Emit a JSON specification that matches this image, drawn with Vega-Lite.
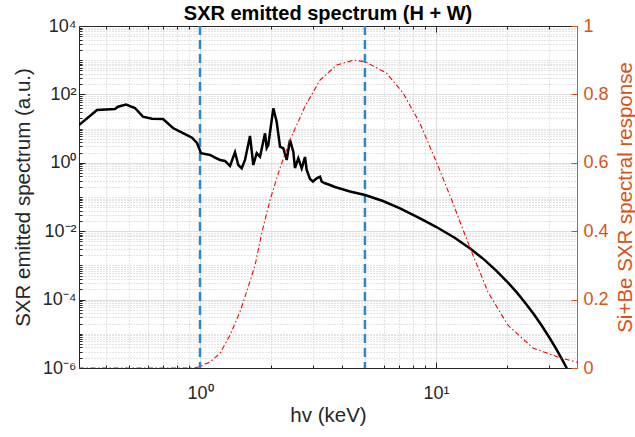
{
  "$schema": "https://vega.github.io/schema/vega-lite/v6.json",
  "width": 498,
  "height": 342,
  "autosize": {"type": "none"},
  "padding": {"left": 79, "top": 26, "right": 58, "bottom": 69},
  "background": "white",
  "config": {"view": {"stroke": null}, "font": "Liberation Sans"},
  "title": {"text": "SXR emitted spectrum (H + W)", "fontSize": 20, "fontWeight": "bold", "font": "Liberation Sans", "color": "#000000", "anchor": "middle", "offset": -23, "baseline": "alphabetic"},
  "datasets": {
    "black": [
      {"E":0.307,"S":12.7},{"E":0.366,"S":35.0},{"E":0.436,"S":37.4},{"E":0.449,"S":43.7},{"E":0.486,"S":50.7},
      {"E":0.530,"S":40.0},{"E":0.573,"S":22.3},{"E":0.626,"S":19.5},{"E":0.697,"S":19.1},{"E":0.768,"S":10.4},
      {"E":0.839,"S":7.59},{"E":0.925,"S":5.42},{"E":0.971,"S":3.79},{"E":1.01,"S":1.90},{"E":1.103,"S":1.69},
      {"E":1.158,"S":1.41},{"E":1.215,"S":1.21},{"E":1.276,"S":1.13},{"E":1.340,"S":0.806},{"E":1.407,"S":2.03},
      {"E":1.453,"S":0.863},{"E":1.502,"S":0.690},{"E":1.551,"S":1.21},{"E":1.629,"S":6.08},{"E":1.682,"S":0.863},
      {"E":1.739,"S":1.90},{"E":1.796,"S":1.51},{"E":1.886,"S":7.29},{"E":1.917,"S":2.71},{"E":1.947,"S":3.31},
      {"E":2.045,"S":39.2},{"E":2.113,"S":15.9},{"E":2.183,"S":2.96},{"E":2.254,"S":2.66},{"E":2.330,"S":1.21},
      {"E":2.407,"S":4.64},{"E":2.485,"S":2.11},{"E":2.526,"S":0.705},{"E":2.610,"S":1.35},{"E":2.698,"S":0.690},
      {"E":2.786,"S":1.48},{"E":2.832,"S":0.615},{"E":2.925,"S":0.336},{"E":3.011,"S":0.284},{"E":3.123,"S":0.352},
      {"E":3.225,"S":0.393},{"E":3.280,"S":0.280},{"E":3.386,"S":0.252},{"E":3.554,"S":0.224},{"E":3.733,"S":0.196},
      {"E":4.322,"S":0.145},{"E":5.003,"S":0.114},{"E":5.96,"S":0.0764},{"E":7.04,"S":0.0468},{"E":8.56,"S":0.0238},
      {"E":10.0,"S":0.01346},{"E":12.0,"S":0.00644},{"E":14.0,"S":0.00308},{"E":16.0,"S":0.001475},{"E":18.0,"S":0.000706},
      {"E":20.0,"S":0.000338},{"E":22.0,"S":0.000162},{"E":24.0,"S":0.0000774},{"E":26.0,"S":0.0000371},{"E":28.0,"S":0.0000177},
      {"E":30.0,"S":0.00000849},{"E":32.0,"S":0.00000406},{"E":34.0,"S":0.00000195},{"E":35.8,"S":0.000001},{"E":37.0,"S":0.00000064}
    ],
    "red": [
      {"E":0.307,"R":0},{"E":0.952,"R":0},{"E":1.017,"R":0.0064},{"E":1.103,"R":0.018},{"E":1.215,"R":0.043},
      {"E":1.340,"R":0.096},{"E":1.478,"R":0.165},{"E":1.602,"R":0.238},{"E":1.711,"R":0.30},{"E":1.826,"R":0.394},
      {"E":1.917,"R":0.452},{"E":1.980,"R":0.491},{"E":2.183,"R":0.585},{"E":2.407,"R":0.667},{"E":2.786,"R":0.765},
      {"E":3.225,"R":0.842},{"E":3.795,"R":0.886},{"E":4.463,"R":0.90},{"E":5.003,"R":0.896},{"E":6.18,"R":0.862},
      {"E":7.27,"R":0.803},{"E":8.56,"R":0.715},{"E":10.23,"R":0.589},{"E":11.66,"R":0.491},{"E":13.93,"R":0.352},
      {"E":16.61,"R":0.222},{"E":20.19,"R":0.125},{"E":25.84,"R":0.058},{"E":33.52,"R":0.03},{"E":39.58,"R":0.017}
    ],
    "vlines": [{"E":1},{"E":5}]
  },
  "layer": [
    {
      "data": {"name": "black"},
      "mark": {"type": "line", "opacity": 0},
      "encoding": {
        "x": {"field": "E", "type": "quantitative", "scale": {"type": "log", "domain": [0.307, 39.6], "nice": false},
          "axis": {"orient": "bottom", "values": [0.4,0.5,0.6,0.7,0.8,0.9,2,3,4,5,6,7,8,9,20,30], "grid": true, "gridColor": "#c9c9c9", "gridDash": [1,2], "gridWidth": 1, "labels": false, "domain": false, "ticks": true, "tickSize": -3, "tickColor": "#262626", "title": null}},
        "y": {"field": "S", "type": "quantitative", "scale": {"type": "log", "domain": [0.000001, 10000], "nice": false},
          "axis": {"orient": "left", "values": [2e-6,3e-6,4e-6,5e-6,6e-6,7e-6,8e-6,9e-6,1e-5,2e-5,3e-5,4e-5,5e-5,6e-5,7e-5,8e-5,9e-5,2e-4,3e-4,4e-4,5e-4,6e-4,7e-4,8e-4,9e-4,1e-3,2e-3,3e-3,4e-3,5e-3,6e-3,7e-3,8e-3,9e-3,0.02,0.03,0.04,0.05,0.06,0.07,0.08,0.09,0.1,0.2,0.3,0.4,0.5,0.6,0.7,0.8,0.9,2,3,4,5,6,7,8,9,10,20,30,40,50,60,70,80,90,200,300,400,500,600,700,800,900,1000,2000,3000,4000,5000,6000,7000,8000,9000], "grid": true, "gridColor": "#c9c9c9", "gridDash": [1,2], "gridWidth": 1, "labels": false, "domain": false, "ticks": true, "tickSize": -3, "tickColor": "#262626", "title": null}}
      }
    },
    {
      "data": {"name": "black"},
      "mark": {"type": "line", "opacity": 0},
      "encoding": {
        "x": {"field": "E", "type": "quantitative", "scale": {"type": "log", "domain": [0.307, 39.6], "nice": false},
          "axis": {"orient": "top", "values": [0.4,0.5,0.6,0.7,0.8,0.9,2,3,4,5,6,7,8,9,20,30], "grid": false, "labels": false, "domain": false, "ticks": true, "tickSize": -3, "tickColor": "#262626", "title": null}},
        "y": {"field": "S", "type": "quantitative", "scale": {"type": "log", "domain": [0.000001, 10000], "nice": false}, "axis": null}
      }
    },
    {
      "data": {"name": "black"},
      "mark": {"type": "line", "opacity": 0},
      "encoding": {
        "x": {"field": "E", "type": "quantitative", "scale": {"type": "log", "domain": [0.307, 39.6], "nice": false},
          "axis": {"orient": "top", "values": [1, 10], "grid": false, "labels": false, "domain": true, "domainColor": "#262626", "ticks": true, "tickSize": -6, "tickColor": "#262626", "title": null}},
        "y": {"field": "S", "type": "quantitative", "scale": {"type": "log", "domain": [0.000001, 10000], "nice": false}, "axis": null}
      }
    },
    {
      "data": {"name": "black"},
      "mark": {"type": "line", "opacity": 0},
      "encoding": {
        "x": {"field": "E", "type": "quantitative", "scale": {"type": "log", "domain": [0.307, 39.6], "nice": false},
          "axis": {"orient": "bottom", "values": [1, 10], "grid": true, "gridColor": "#dedede", "gridWidth": 1, "domain": true, "domainColor": "#262626", "ticks": true, "tickSize": -6, "tickColor": "#262626",
            "labelExpr": "datum.value >= 5 ? '10¹' : '10⁰'", "labelFont": "Liberation Sans", "labelFontSize": 18, "labelColor": "#262626", "labelPadding": 22, "labelFlush": false, "labelOverlap": false,
            "title": "hv (keV)", "titleFont": "Liberation Sans", "titleFontSize": 20.5, "titleFontWeight": "normal", "titleColor": "#262626", "titleX": 249, "titleY": 53, "titleAlign": "center", "titleBaseline": "alphabetic", "titleAngle": 0}},
        "y": {"field": "S", "type": "quantitative", "scale": {"type": "log", "domain": [0.000001, 10000], "nice": false},
          "axis": {"orient": "left", "values": [0.000001, 0.0001, 0.01, 1, 100, 10000], "grid": true, "gridColor": "#dedede", "gridWidth": 1, "domain": true, "domainColor": "#262626", "ticks": true, "tickSize": -6, "tickColor": "#262626",
            "labelExpr": "datum.value >= 5000 ? '10⁴' : datum.value >= 50 ? '10²' : datum.value >= 0.5 ? '10⁰' : datum.value >= 0.005 ? '10⁻²' : datum.value >= 0.00005 ? '10⁻⁴' : '10⁻⁶'",
            "labelFont": "Liberation Sans", "labelFontSize": 18, "labelColor": "#262626", "labelPadding": 9, "labelFlush": false, "labelOverlap": false,
            "title": "SXR emitted spectrum (a.u.)", "titleFont": "Liberation Sans", "titleFontSize": 20.5, "titleFontWeight": "normal", "titleColor": "#262626", "titleAngle": 270, "titleX": -49.5, "titleY": 171, "titleAlign": "center", "titleBaseline": "alphabetic"}}
      }
    },
    {
      "data": {"name": "vlines"},
      "mark": {"type": "rule", "color": "#2c86cc", "strokeWidth": 2.5, "strokeDash": [9, 5]},
      "encoding": {
        "x": {"field": "E", "type": "quantitative", "scale": {"type": "log", "domain": [0.307, 39.6], "nice": false}, "axis": null}
      }
    },
    {
      "data": {"name": "black"},
      "mark": {"type": "line", "color": "#000000", "strokeWidth": 2.5, "clip": true},
      "encoding": {
        "x": {"field": "E", "type": "quantitative", "scale": {"type": "log", "domain": [0.307, 39.6], "nice": false}, "axis": null},
        "y": {"field": "S", "type": "quantitative", "scale": {"type": "log", "domain": [0.000001, 10000], "nice": false}, "axis": null}
      }
    },
    {
      "data": {"name": "red"},
      "mark": {"type": "line", "color": "#FF0000", "strokeWidth": 1.1, "strokeDash": [5, 2.5, 1.5, 2.5], "clip": true},
      "encoding": {
        "x": {"field": "E", "type": "quantitative", "scale": {"type": "log", "domain": [0.307, 39.6], "nice": false}, "axis": null},
        "y": {"field": "R", "type": "quantitative", "scale": {"type": "linear", "domain": [0, 1], "nice": false, "zero": false},
          "axis": {"orient": "right", "values": [0, 0.2, 0.4, 0.6, 0.8, 1], "grid": false, "domain": true, "domainColor": "#D95319", "ticks": true, "tickColor": "#D95319", "tickSize": -6,
            "labelExpr": "datum.value == 0 ? '0' : datum.value == 1 ? '1' : format(datum.value, '.1f')", "labelFont": "Liberation Sans", "labelFontSize": 18, "labelColor": "#D95319", "labelPadding": 12, "labelFlush": false, "labelOverlap": false,
            "title": "Si+Be SXR spectral response", "titleFont": "Liberation Sans", "titleFontSize": 20.5, "titleFontWeight": "normal", "titleColor": "#D95319", "titleAngle": 270, "titleX": 54, "titleY": 171, "titleAlign": "center", "titleBaseline": "alphabetic"}}
      }
    }
  ],
  "resolve": {"scale": {"y": "independent"}, "axis": {"x": "independent", "y": "independent"}}
}
